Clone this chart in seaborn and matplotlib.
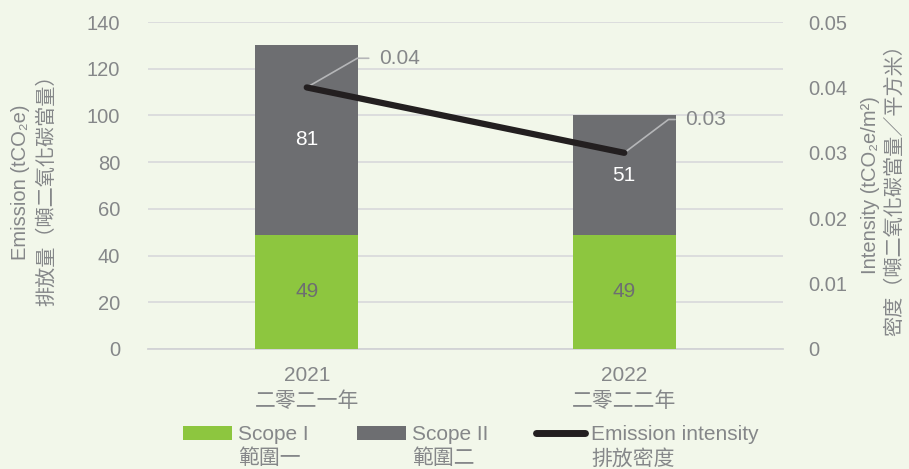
import numpy as np
import pandas as pd
import seaborn as sns
import matplotlib
matplotlib.use('Agg')
import matplotlib.pyplot as plt
from matplotlib.patches import Patch
from matplotlib.lines import Line2D

# data
years = ['2021\n二零二一年', '2022\n二零二二年']
scope1 = [49, 49]
scope2 = [81, 51]
intensity = [0.04, 0.03]
intensity_labels = ['0.04', '0.03']
legend_en = ['Scope I', 'Scope II', 'Emission intensity']
legend_zh = ['範圍一', '範圍二', '排放密度']

bg = '#f2f7ea'
green = '#8dc63f'
grey_bar = '#6d6e71'
txt = '#858789'
fs = 15

sns.set_theme(style='white')
plt.rcParams['font.family'] = ['Liberation Sans', 'Noto Sans CJK TC', 'DejaVu Sans']
plt.rcParams['font.size'] = fs

df = pd.DataFrame({'year': years, 'scope1': scope1, 'scope2': scope2})
df['total'] = df['scope1'] + df['scope2']

fig = plt.figure(figsize=(9.09, 4.69), dpi=100, facecolor=bg)
ax = fig.add_axes([0.1628, 0.2559, 0.6986, 0.6971])
ax.set_facecolor(bg)

# stacked bars: total behind, scope I on top
sns.barplot(data=df, x='year', y='total', color=grey_bar, width=0.325,
            saturation=1, edgecolor='none', linewidth=0, ax=ax, zorder=2)
sns.barplot(data=df, x='year', y='scope1', color=green, width=0.325,
            saturation=1, edgecolor='none', linewidth=0, ax=ax, zorder=3)

bars_total = ax.containers[0]
bars_s1 = ax.containers[1]
ax.bar_label(bars_s1, labels=[str(v) for v in scope1], label_type='center',
             color=grey_bar, fontsize=fs)
# centre the scope II labels on the grey segment
for b, s1, s2 in zip(bars_total, scope1, scope2):
    ax.text(b.get_x() + b.get_width() / 2, s1 + s2 / 2, str(s2),
            ha='center', va='center', color='white', fontsize=fs, zorder=5)

ax.set_ylim(0, 140)
ax.set_xlim(-0.5, 1.5)
ax.set_yticks(range(0, 141, 20))
ax.yaxis.grid(True, color='#dadbdc', lw=1.3, zorder=0)
ax.set_axisbelow(True)
for s in ['top', 'right', 'left']:
    ax.spines[s].set_visible(False)
ax.spines['bottom'].set_color('#d2d3d5')
ax.spines['bottom'].set_linewidth(1.3)
ax.tick_params(axis='y', length=0, pad=20, labelcolor=txt, labelsize=14.5)
ax.tick_params(axis='x', which='major', length=0, pad=12, labelcolor=txt,
               labelsize=fs)
for t in ax.get_xticklabels():
    t.set_linespacing(1.45)
ax.set_xticks([-0.5, 0.5, 1.5], minor=True)
ax.tick_params(axis='x', which='minor', length=5, width=1.3, color='#d2d3d5',
               direction='out')
ax.set_xlabel('')
ax.set_ylabel('')

# axis titles: two lines each
ax.text(-0.2, 0.51, 'Emission (tCO₂e)', transform=ax.transAxes, rotation=90,
        ha='center', va='center', color=txt, fontsize=14.5)
ax.text(-0.1606, 0.5, '排放量（噸二氧化碳當量）', transform=ax.transAxes,
        rotation=90, ha='center', va='center', color=txt, fontsize=14.5)

# intensity line on the secondary axis
ax2 = ax.twinx()
sns.lineplot(x=[0, 1], y=intensity, color='#231f20', lw=4.5, ax=ax2,
             solid_capstyle='round', zorder=6)
ax2.set_ylim(0, 0.05)
ax2.set_yticks([0, 0.01, 0.02, 0.03, 0.04, 0.05])
ax2.set_yticklabels(['0', '0.01', '0.02', '0.03', '0.04', '0.05'])
for s in ax2.spines.values():
    s.set_visible(False)
ax2.tick_params(axis='y', length=0, pad=18, labelcolor=txt, labelsize=14.5)
ax2.set_ylabel('')
ax2.text(1.137, 0.5, 'Intensity (tCO₂e/m²)', transform=ax2.transAxes,
         rotation=90, ha='center', va='center', color=txt, fontsize=14.5)
ax2.text(1.176, 0.5, '密度（噸二氧化碳當量／平方米）', transform=ax2.transAxes,
         rotation=90, ha='center', va='center', color=txt, fontsize=14.5)

offsets = [(52, 21), (44, 24)]
angles = [30, 37]
for i, (v, lab) in enumerate(zip(intensity, intensity_labels)):
    ax2.annotate(lab, xy=(i, v), xytext=offsets[i], textcoords='offset points',
                 ha='left', va='center', color=txt, fontsize=fs,
                 arrowprops=dict(arrowstyle='-', color='#b5b6b8', lw=1.2,
                                 shrinkA=5, shrinkB=0,
                                 connectionstyle=f'angle,angleA=0,angleB={angles[i]},rad=0'))

handles = [Patch(facecolor=green, edgecolor='none'),
           Patch(facecolor=grey_bar, edgecolor='none'),
           Line2D([0], [0], color='#231f20', lw=5, solid_capstyle='round')]
leg = fig.legend(handles, legend_en, loc='center', bbox_to_anchor=(0.518, 0.073),
                 ncol=3, frameon=False, fontsize=fs, handlelength=2.35,
                 handleheight=0.7, handletextpad=0.3, columnspacing=2.3,
                 labelcolor=txt, borderpad=0, borderaxespad=0)

# second (Chinese) line under each legend entry
fig.canvas.draw()
inv = fig.transFigure.inverted()
for t, zh in zip(leg.get_texts(), legend_zh):
    bb = t.get_window_extent()
    x0, _ = inv.transform((bb.x0, bb.y0))
    fig.text(x0, 0.022, zh, ha='left', va='center', color=txt, fontsize=fs)

fig.savefig('out.png', dpi=100, facecolor=bg)
